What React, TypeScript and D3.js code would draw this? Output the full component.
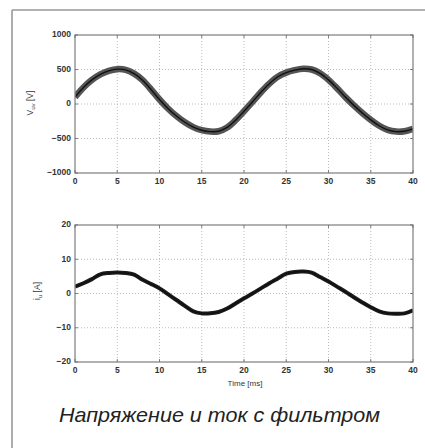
import React from "react";
import * as d3 from "d3";

const timeMs = d3.range(0, 41);
const voltage = [100, 240, 350, 430, 480, 505, 495, 440, 345, 210, 65, -65, -175, -265, -335, -380, -400, -395, -340, -235, -105, 30, 170, 295, 395, 455, 490, 510, 500, 445, 350, 230, 100, -20, -130, -230, -315, -375, -400, -395, -360];
const current = [2.0, 3.0, 4.2, 5.6, 6.0, 6.1, 6.0, 5.5, 4.0, 2.8, 1.5, -0.2, -1.9, -3.6, -5.2, -5.8, -5.8, -5.4, -4.4, -2.9, -1.4, 0.0, 1.5, 3.0, 4.4, 5.8, 6.3, 6.4, 6.1, 4.8, 3.5, 2.0, 0.5, -1.1, -2.6, -4.0, -5.2, -5.8, -5.9, -5.8, -4.9];
const xTicks = [0, 5, 10, 15, 20, 25, 30, 35, 40];
const vTicks = [-1000, -500, 0, 500, 1000];
const iTicks = [-20, -10, 0, 10, 20];
const caption = "Напряжение и ток с фильтром";
const xLabel = "Time [ms]";

const W = 425;
const H = 448;
const font = "'Liberation Sans', Arial, sans-serif";

function fmt(v: number) {
  return v < 0 ? "\u2212" + Math.abs(v) : String(v);
}

function Panel({ top, bottom, yDomain, yTicks, values, bandWidth, bandColor, coreWidth, ylabel }: any) {
  const x = d3.scaleLinear().domain([0, 40]).range([75, 413]);
  const y = d3.scaleLinear().domain(yDomain).range([bottom, top]);
  const line = d3
    .line<number>()
    .x((_, i) => x(timeMs[i]))
    .y((d) => y(d))
    .curve(d3.curveCatmullRom.alpha(0.5));
  const path = line(values) || "";
  const clipId = "clip" + top;
  return (
    <g>
      <defs>
        <clipPath id={clipId}>
          <rect x={75} y={top} width={338} height={bottom - top} />
        </clipPath>
      </defs>
      {xTicks.slice(1, -1).map((t) => (
        <line key={"gx" + t} x1={x(t)} x2={x(t)} y1={top} y2={bottom} stroke="#aaa" strokeWidth={0.8} strokeDasharray="1,2" />
      ))}
      {yTicks.slice(1, -1).map((t: number) => (
        <line key={"gy" + t} x1={75} x2={413} y1={y(t)} y2={y(t)} stroke="#aaa" strokeWidth={0.8} strokeDasharray="1,2" />
      ))}
      <g clipPath={`url(#${clipId})`}>
        <path d={path} fill="none" stroke={bandColor} strokeWidth={bandWidth} strokeLinejoin="round" />
        <path d={path} fill="none" stroke="#111" strokeWidth={coreWidth} strokeLinejoin="round" />
      </g>
      <rect x={75} y={top} width={338} height={bottom - top} fill="none" stroke="#888" strokeWidth={1.3} />
      {xTicks.map((t) => (
        <g key={"tx" + t}>
          <line x1={x(t)} x2={x(t)} y1={bottom} y2={bottom - 3} stroke="#666" strokeWidth={0.8} />
          <line x1={x(t)} x2={x(t)} y1={top} y2={top + 3} stroke="#666" strokeWidth={0.8} />
          <text x={x(t)} y={bottom + 9} fontSize={8.5} fill="#333" textAnchor="middle" dominantBaseline="middle" fontFamily={font} fontWeight="bold">
            {t}
          </text>
        </g>
      ))}
      {yTicks.map((t: number) => (
        <g key={"ty" + t}>
          <line x1={75} x2={78} y1={y(t)} y2={y(t)} stroke="#666" strokeWidth={0.8} />
          <line x1={413} x2={410} y1={y(t)} y2={y(t)} stroke="#666" strokeWidth={0.8} />
          <text x={71} y={y(t)} fontSize={8.5} fill="#333" textAnchor="end" dominantBaseline="middle" fontFamily={font} fontWeight="bold">
            {fmt(t)}
          </text>
        </g>
      ))}
      {ylabel}
    </g>
  );
}

export default function App() {
  return (
    <svg width={W} height={H} style={{ position: "absolute", left: 0, top: 0, background: "#fff" }}>
      <rect x={0} y={0} width={W} height={H} fill="#fff" />
      <line x1={12} x2={W} y1={10} y2={10} stroke="#999" strokeWidth={1.6} />
      <line x1={12} x2={12} y1={10} y2={H} stroke="#999" strokeWidth={1.6} />
      <Panel
        top={35}
        bottom={173}
        yDomain={[-1000, 1000]}
        yTicks={vTicks}
        values={voltage}
        bandWidth={6.5}
        bandColor="#555"
        coreWidth={1.4}
        ylabel={
          <text transform="translate(31,103) rotate(-90)" textAnchor="middle" dominantBaseline="middle" fontSize={8.5} fill="#333" fontFamily={font}>
            V<tspan fontSize={6} dy={2}>uv</tspan>
            <tspan dy={-2}> [V]</tspan>
          </text>
        }
      />
      <Panel
        top={225}
        bottom={362}
        yDomain={[-20, 20]}
        yTicks={iTicks}
        values={current}
        bandWidth={4}
        bandColor="#1c1c1c"
        coreWidth={1.5}
        ylabel={
          <text transform="translate(38,291) rotate(-90)" textAnchor="middle" dominantBaseline="middle" fontSize={8.5} fill="#333" fontFamily={font}>
            i<tspan fontSize={6} dy={2}>u</tspan>
            <tspan dy={-2}> [A]</tspan>
          </text>
        }
      />
      <text x={245} y={384} textAnchor="middle" dominantBaseline="middle" fontSize={8} fill="#333" fontFamily={font}>
        {xLabel}
      </text>
      <text x={219.5} y={422} textAnchor="middle" fontSize={21} fontStyle="italic" fill="#222" fontFamily="'Liberation Sans', Arial, sans-serif" textLength={321} lengthAdjust="spacingAndGlyphs">
        {caption}
      </text>
    </svg>
  );
}
